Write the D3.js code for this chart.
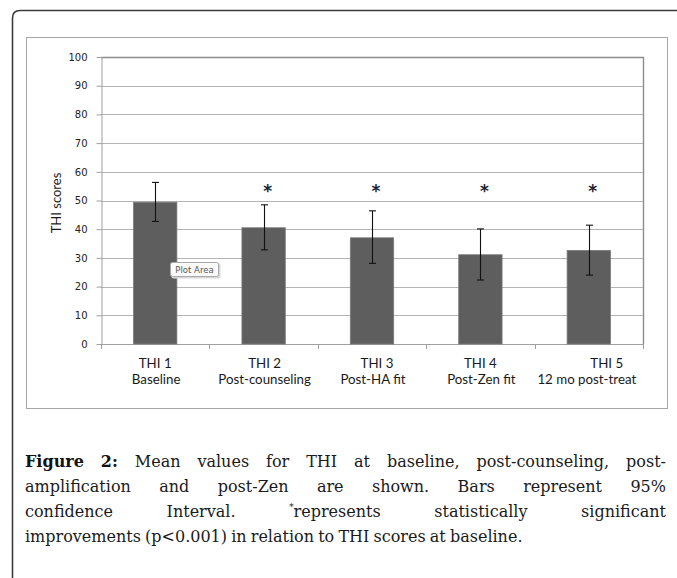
<!DOCTYPE html>
<html>
<head>
<meta charset="utf-8">
<script src="https://cdn.jsdelivr.net/npm/d3@7"></script>
<style>
  html, body { margin: 0; padding: 0; background: #fff; }
  svg { display: block; }
</style>
</head>
<body>
<svg id="chart" width="677" height="578"></svg>
<script>
// ---- data ----
const categories = ["THI 1", "THI 2", "THI 3", "THI 4", "THI 5"];
const labelLine1 = ["THI 1", "THI 2", "THI 3", "THI 4", "THI 5"];
const labelLine2 = ["Baseline", "Post-counseling", "Post-HA fit", "Post-Zen fit", "12 mo post-treat"];
const means = [49.4, 40.5, 37.0, 31.1, 32.6];
const ciUpper = [56.3, 48.5, 46.4, 40.1, 41.4];
const ciLower = [42.7, 32.8, 28.1, 22.3, 24.0];
const significant = [false, true, true, true, true];
const yTicks = [0, 10, 20, 30, 40, 50, 60, 70, 80, 90, 100];
const yTitle = "THI scores";
const captionLines = [
  [{t: "Figure 2:", b: true}, {t: "Mean values for THI at baseline, post-counseling, post-"}],
  [{t: "amplification and post-Zen are shown. Bars represent 95%"}],
  [{t: "confidence Interval."}, {t: "*", sup: true}, {t: "represents statistically significant", attach: true}],
  [{t: "improvements (p<0.001) in relation to THI scores at baseline."}]
];

// ---- layout ----
const svg = d3.select("#chart");
const plot = {left: 101, right: 643, top: 57, bottom: 344};
const x = d3.scaleBand().domain(categories).range([plot.left, plot.right]).padding(0);
const y = d3.scaleLinear().domain([0, 100]).range([plot.bottom, plot.top]);

// outer frame with rounded top-left corner
svg.append("path")
  .attr("d", "M12.5,578 L12.5,18 Q12.5,10.5 20,10.5 L677,10.5")
  .attr("fill", "none").attr("stroke", "#3c3c3c").attr("stroke-width", 1.6);

// chart area box
svg.append("rect")
  .attr("x", 26.5).attr("y", 37.5).attr("width", 641).attr("height", 371)
  .attr("fill", "#fff").attr("stroke", "#a6a6a6").attr("stroke-width", 1);

// gridlines
svg.append("g").selectAll("line").data(yTicks.filter(d => d > 0)).join("line")
  .attr("x1", plot.left).attr("x2", plot.right)
  .attr("y1", d => Math.round(y(d)) + 0.5).attr("y2", d => Math.round(y(d)) + 0.5)
  .attr("stroke", "#b4b4b4").attr("stroke-width", 1);

// plot area border (top & right)
svg.append("path")
  .attr("d", `M${plot.left},${Math.round(plot.top)+0.5} L${plot.right+0.5},${Math.round(plot.top)+0.5} L${plot.right+0.5},${plot.bottom}`)
  .attr("fill", "none").attr("stroke", "#8c8c8c").attr("stroke-width", 1.4);

// y axis
const yAxis = svg.append("g")
  .attr("transform", `translate(${plot.left + 0.5},0)`)
  .call(d3.axisLeft(y).tickValues(yTicks).tickSize(5).tickPadding(9).tickSizeOuter(0));
yAxis.select(".domain").attr("stroke", "#a0a0a0");
yAxis.selectAll(".tick line").attr("stroke", "#a0a0a0");
yAxis.selectAll(".tick text")
  .attr("font-family", "DejaVu Sans, Verdana, sans-serif").attr("font-size", 10).attr("fill", "#222");

// x axis line + boundary ticks
svg.append("line")
  .attr("x1", plot.left).attr("x2", plot.right)
  .attr("y1", plot.bottom + 0.5).attr("y2", plot.bottom + 0.5)
  .attr("stroke", "#a0a0a0");
const bounds = categories.map(c => x(c)).concat([x.range()[1]]);
svg.append("g").selectAll("line").data(bounds).join("line")
  .attr("x1", d => Math.round(d) + 0.5).attr("x2", d => Math.round(d) + 0.5)
  .attr("y1", plot.bottom).attr("y2", plot.bottom + 5)
  .attr("stroke", "#a0a0a0");

// bars
const barW = x.bandwidth() * 0.4;
svg.append("g").selectAll("rect").data(categories).join("rect")
  .attr("x", c => x(c) + (x.bandwidth() - barW) / 2)
  .attr("y", (c, i) => y(means[i]))
  .attr("width", barW)
  .attr("height", (c, i) => y(0) - y(means[i]))
  .attr("fill", "#5e5e5e").attr("stroke", "#7a7a7a").attr("stroke-width", 0.8);

// error bars
const eg = svg.append("g").attr("stroke", "#111").attr("stroke-width", 1.1);
categories.forEach((c, i) => {
  const cx = Math.round(x(c) + x.bandwidth() / 2) + 0.5;
  eg.append("line").attr("x1", cx).attr("x2", cx).attr("y1", y(ciUpper[i])).attr("y2", y(ciLower[i]));
  [ciUpper[i], ciLower[i]].forEach(v => {
    eg.append("line").attr("x1", cx - 3.5).attr("x2", cx + 3.5).attr("y1", y(v)).attr("y2", y(v));
  });
});

// significance asterisks
svg.append("g").selectAll("text").data(categories.filter((c, i) => significant[i])).join("text")
  .attr("x", c => x(c) + x.bandwidth() / 2 + 4)
  .attr("y", y(54) + 8)
  .attr("text-anchor", "middle")
  .attr("font-family", "DejaVu Sans, sans-serif").attr("font-size", 17).attr("font-weight", "bold")
  .attr("fill", "#1b2433")
  .text("*");

// category labels
const labelShift = [0, 1, 5, 0, 18];
const lab = svg.append("g").attr("font-family", "Lato, Open Sans, sans-serif").attr("font-size", 13.3).attr("fill", "#1a1a1a").attr("text-anchor", "middle");
categories.forEach((c, i) => {
  const cx = x(c) + x.bandwidth() / 2;
  lab.append("text").attr("x", cx + labelShift[i]).attr("y", 368).text(labelLine1[i]);
  lab.append("text").attr("x", cx + (i === 4 ? -2 : 1)).attr("y", 384).text(labelLine2[i]);
});

// y axis title
svg.append("text")
  .attr("transform", "translate(61,203) rotate(-90)")
  .attr("text-anchor", "middle")
  .attr("font-family", "Lato, Open Sans, sans-serif").attr("font-size", 13).attr("fill", "#1a1a1a")
  .text(yTitle);

// "Plot Area" tooltip
const tip = svg.append("g").attr("transform", "translate(170,262)");
tip.append("rect").attr("x", 1.5).attr("y", 1.5).attr("width", 49).attr("height", 15).attr("rx", 2).attr("fill", "#d8d8d8");
tip.append("rect").attr("x", 0.5).attr("y", 0.5).attr("width", 48).attr("height", 14).attr("rx", 2)
  .attr("fill", "#fbfbfb").attr("stroke", "#a9a9a9");
tip.append("text").attr("x", 24.5).attr("y", 11).attr("text-anchor", "middle")
  .attr("font-family", "DejaVu Sans, sans-serif").attr("font-size", 8.5).attr("fill", "#555").text("Plot Area");

// caption (justified lines)
const capX0 = 25, capX1 = 666, capY0 = 467, capDy = 25, capFS = 16;
const cap = svg.append("g").attr("font-family", "DejaVu Serif, serif").attr("font-size", capFS).attr("fill", "#1a1a1a");
captionLines.forEach((segs, li) => {
  const yy = capY0 + li * capDy;
  const tokens = [];
  segs.forEach(s => {
    if (s.sup) { tokens.push({t: s.t, sup: true}); return; }
    const words = s.t.split(" ");
    words.forEach((w, wi) => {
      if (s.attach && wi === 0) { tokens[tokens.length - 1].next = {t: w}; }
      else tokens.push({t: w, b: s.b});
    });
  });
  const nodes = tokens.map(tk => {
    const g = cap.append("text").attr("y", yy);
    if (tk.sup) {
      g.append("tspan").attr("font-size", capFS * 0.55).attr("dy", -7).text(tk.t);
      if (tk.next) g.append("tspan").attr("dy", 7).text(tk.next.t);
    } else {
      g.text(tk.t);
      if (tk.b) g.attr("font-weight", "bold").attr("fill", "#111");
    }
    return g;
  });
  const widths = nodes.map(n => n.node().getComputedTextLength());
  const total = d3.sum(widths);
  const justify = li < captionLines.length - 1;
  const space = capFS * 0.26;
  const gap = justify ? (capX1 - capX0 - total) / (tokens.length - 1) : space;
  let cx = capX0;
  nodes.forEach((n, i) => { n.attr("x", cx); n.selectAll("tspan").filter((d, j) => j === 0).attr("x", cx); cx += widths[i] + gap; });
});
</script>
</body>
</html>
